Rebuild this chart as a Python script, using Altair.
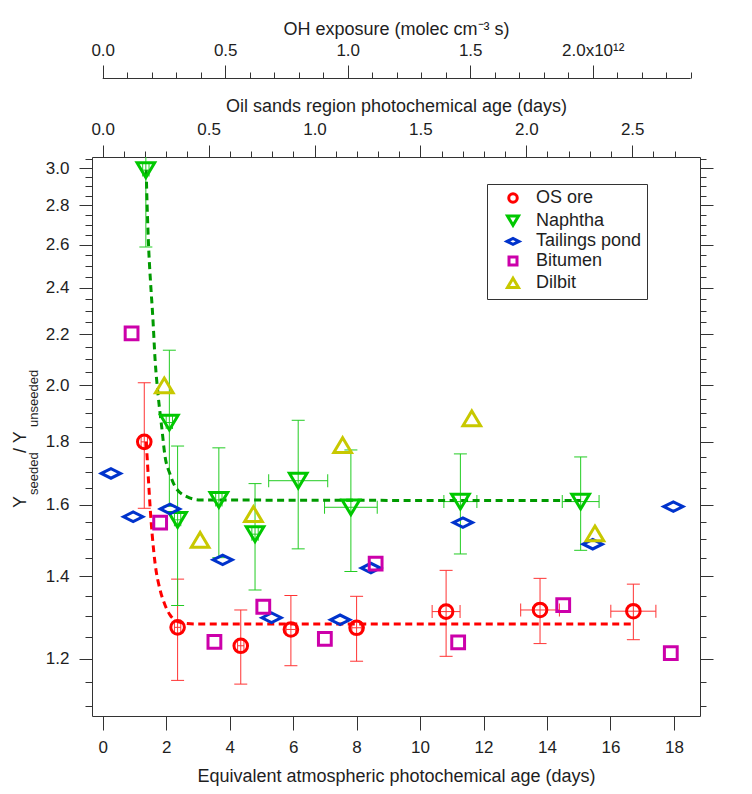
import altair as alt
import pandas as pd

# ---------------- values ----------------
series_names = ["OS ore", "Naphtha", "Tailings pond", "Bitumen", "Dilbit"]
series_colors = ["#ff0000", "#00c800", "#0033cc", "#cc00aa", "#c8c800"]
series_shapes = [
    "M0.85,0A0.85,0.85,0,1,1,-0.85,0A0.85,0.85,0,1,1,0.85,0Z",
    "M-1.1,-0.92L1.1,-0.92L0,0.92Z",
    "M-1.2,0L0,-0.6L1.2,0L0,0.6Z",
    "M-0.8,-0.8L0.8,-0.8L0.8,0.8L-0.8,0.8Z",
    "M0,-0.92L1.1,0.92L-1.1,0.92Z",
]

os_x = [1.31, 2.36, 4.35, 5.93, 8.00, 10.82, 13.78, 16.72]
os_y = [1.80, 1.273, 1.230, 1.268, 1.272, 1.311, 1.315, 1.312]
os_yerr = [0.21, 0.12, 0.085, 0.083, 0.077, 0.105, 0.080, 0.068]
os_xerr = [0.10, 0.10, 0.10, 0.15, 0.15, 0.44, 0.61, 0.71]

na_x = [1.36, 2.10, 2.36, 3.66, 4.80, 6.16, 7.82, 11.27, 15.06]
na_y = [2.99, 1.866, 1.556, 1.615, 1.515, 1.674, 1.593, 1.610, 1.610]
na_yerr = [0.40, 0.27, 0.23, 0.165, 0.15, 0.20, 0.18, 0.15, 0.14]
na_xerr = [0.10, 0.10, 0.10, 0.10, 0.10, 0.93, 0.83, 0.52, 0.58]

tp_x = [0.26, 0.96, 2.12, 3.78, 5.32, 7.48, 8.45, 11.35, 15.44, 17.98]
tp_y = [1.697, 1.565, 1.588, 1.444, 1.296, 1.291, 1.422, 1.548, 1.487, 1.595]

bi_x = [0.91, 1.81, 3.52, 5.06, 7.00, 8.60, 11.20, 14.51, 17.90]
bi_y = [2.204, 1.548, 1.239, 1.323, 1.246, 1.434, 1.238, 1.327, 1.213]

di_x = [1.94, 3.07, 4.75, 7.56, 11.63, 15.51]
di_y = [2.00, 1.499, 1.573, 1.789, 1.881, 1.517]

os_fit_x = [1.37, 1.40, 1.44, 1.50, 1.56, 1.65, 1.81, 1.96, 2.12, 2.28, 2.50, 3.00, 16.72]
os_fit_y = [1.80, 1.75, 1.68, 1.585, 1.513, 1.435, 1.365, 1.328, 1.303, 1.290, 1.284, 1.281, 1.281]
na_fit_x = [1.37, 1.40, 1.45, 1.51, 1.58, 1.65, 1.75, 1.86, 1.96, 2.12, 2.28, 2.65, 3.07, 15.06]
na_fit_y = [2.99, 2.80, 2.58, 2.42, 2.27, 2.10, 1.96, 1.85, 1.755, 1.695, 1.656, 1.625, 1.615, 1.613]

bottom_ticks = [0, 2, 4, 6, 8, 10, 12, 14, 16, 18]
y_ticks = [round(1.10 + 0.05 * i, 2) for i in range(40)]
os_ticks = [round(0.1 * i, 1) for i in range(28)]
oh_ticks = [round(0.1 * i, 1) for i in range(25)]
oh_line = [0.0, 2.4]

# ---------------- layout / style ----------------
FONT = "Liberation Sans"
AX = "#333333"
TX = "#1e1e1e"
W, H = 608, 559
X_DOM = [-0.337, 18.82]
Y_DOM = [1.0788, 3.064]
OS_DOM = [-0.0505, 2.82]
OH_DOM = [-0.0437, 2.438]

x_scale = alt.Scale(domain=X_DOM, nice=False, zero=False)
y_scale = alt.Scale(type="log", domain=Y_DOM, nice=False)

def cond_size(test, major, minor):
    return {"condition": {"test": test, "value": major}, "value": minor}

Y_MAJOR = "abs(datum.value*5 - round(datum.value*5)) < 0.01"
HALF_MAJOR = "abs(datum.value*2 - round(datum.value*2)) < 0.01"

common = dict(grid=False, domainColor=AX, tickColor=AX, labelColor=TX, titleColor=TX,
              labelFont=FONT, titleFont=FONT, labelFontSize=17, titleFontSize=18,
              titleFontWeight="normal", labelFlush=False, labelOverlap=False,
              domainWidth=1, tickWidth=1)

bottom_axis = alt.Axis(orient="bottom", values=bottom_ticks, format="d", tickSize=14,
                       labelPadding=9, title="Equivalent atmospheric photochemical age (days)",
                       titlePadding=12, **common)
left_axis = alt.Axis(orient="left", values=y_ticks,
                     labelExpr=f"({Y_MAJOR}) ? format(datum.value, '.1f') : ''",
                     tickSize=cond_size(Y_MAJOR, 13, 7), labelPadding=10, title=None, **common)
right_axis = alt.Axis(orient="right", values=y_ticks, labels=False,
                      tickSize=cond_size(Y_MAJOR, 13, 6), title=None, **common)
os_axis = alt.Axis(orient="top", values=os_ticks,
                   labelExpr=f"({HALF_MAJOR}) ? format(datum.value, '.1f') : ''",
                   tickSize=cond_size(HALF_MAJOR, 12, 6), labelPadding=7,
                   title="Oil sands region photochemical age (days)", titlePadding=5, **common)
oh_axis = alt.Axis(orient="top", values=oh_ticks, offset=79, domain=False,
                   labelExpr=("abs(datum.value - 2) < 0.01 ? '2.0x10\u00b9\u00b2' : "
                              f"(({HALF_MAJOR}) ? format(datum.value, '.1f') : '')"),
                   tickSize=cond_size(HALF_MAJOR, 13, 6), labelPadding=6,
                   title="OH exposure (molec cm\u207b\u00b3 s)", titlePadding=3, **common)

def X(field):
    return alt.X(field, type="quantitative", scale=x_scale, axis=bottom_axis)

def Y(field):
    return alt.Y(field, type="quantitative", scale=y_scale, axis=left_axis)

# ---------------- error bars ----------------
def error_layers(xs, ys, yerr, xerr, color):
    df = pd.DataFrame({
        "x": xs, "y": ys,
        "ylo": [a - e for a, e in zip(ys, yerr)], "yhi": [a + e for a, e in zip(ys, yerr)],
        "xlo": [a - e for a, e in zip(xs, xerr)], "xhi": [a + e for a, e in zip(xs, xerr)],
    })
    base = alt.Chart(df)
    rule = dict(color=color, strokeWidth=1, clip=True, opacity=1)
    hcap = dict(color=color, orient="horizontal", size=13, thickness=1, clip=True, opacity=1)
    vcap = dict(color=color, orient="vertical", size=13, thickness=1, clip=True, opacity=1)
    return [
        base.mark_rule(**rule).encode(x=X("x"), y=Y("ylo"), y2="yhi"),
        base.mark_tick(**hcap).encode(x=X("x"), y=Y("yhi")),
        base.mark_tick(**hcap).encode(x=X("x"), y=Y("ylo")),
        base.mark_rule(**rule).encode(x=X("xlo"), x2="xhi", y=Y("y")),
        base.mark_tick(**vcap).encode(x=X("xlo"), y=Y("y")),
        base.mark_tick(**vcap).encode(x=X("xhi"), y=Y("y")),
    ]

err = error_layers(os_x, os_y, os_yerr, os_xerr, "#ff3333") + \
      error_layers(na_x, na_y, na_yerr, na_xerr, "#22cc22")

# ---------------- fit curves ----------------
fit_os = alt.Chart(pd.DataFrame({"x": os_fit_x, "y": os_fit_y})).mark_line(
    color="#ff0000", strokeWidth=3, strokeDash=[7, 4.5], interpolate="monotone", clip=True
).encode(x=X("x"), y=Y("y"))
fit_na = alt.Chart(pd.DataFrame({"x": na_fit_x, "y": na_fit_y})).mark_line(
    color="#009a00", strokeWidth=3, strokeDash=[7, 4.5], interpolate="monotone", clip=True
).encode(x=X("x"), y=Y("y"))

# ---------------- markers ----------------
rows = []
for name, xs, ys in zip(series_names, [os_x, na_x, tp_x, bi_x, di_x], [os_y, na_y, tp_y, bi_y, di_y]):
    for a, b in zip(xs, ys):
        rows.append({"series": name, "x": a, "y": b})
pts_df = pd.DataFrame(rows)

legend = alt.Legend(title=None, orient="none", legendX=395, legendY=27,
                    strokeColor=AX, fillColor="white", padding=5,
                    labelFont=FONT, labelFontSize=18, labelColor=TX,
                    symbolSize=100, symbolStrokeWidth=3, rowPadding=0.7,
                    symbolOffset=12, labelOffset=14)

points = alt.Chart(pts_df).mark_point(filled=False, strokeWidth=3, size=256, opacity=1).encode(
    x=X("x"), y=Y("y"),
    color=alt.Color("series:N", scale=alt.Scale(domain=series_names, range=series_colors), legend=legend),
    shape=alt.Shape("series:N", scale=alt.Scale(domain=series_names, range=series_shapes), legend=legend),
)

# ---------------- y-axis title with subscripts ----------------
def ytxt(text, x, y, size):
    return alt.Chart(pd.DataFrame({"t": [text]})).mark_text(
        angle=270, align="left", baseline="middle", font=FONT, fontSize=size, color=TX
    ).encode(text="t:N", x=alt.value(x), y=alt.value(y))

ytitle = [ytxt("Y", -70.7, 351, 18), ytxt("seeded", -58.5, 338, 13),
          ytxt(" / Y", -70.7, 296, 18), ytxt("unseeded", -58.5, 270, 13)]

main = alt.layer(*err, fit_os, fit_na, points, *ytitle)

# ---------------- extra axes ----------------
os_layer = alt.Chart(pd.DataFrame({"v": [0.0]})).mark_point(opacity=0).encode(
    x=alt.X("v:Q", scale=alt.Scale(domain=OS_DOM, nice=False, zero=False), axis=os_axis)
)
oh_layer = alt.Chart(pd.DataFrame({"a": [oh_line[0]], "b": [oh_line[1]]})).mark_rule(
    color=AX, strokeWidth=1
).encode(
    x=alt.X("a:Q", scale=alt.Scale(domain=OH_DOM, nice=False, zero=False), axis=oh_axis),
    x2="b:Q", y=alt.value(-78.5)
)
right_layer = alt.Chart(pd.DataFrame({"v": [1.5]})).mark_point(opacity=0).encode(
    y=alt.Y("v:Q", scale=alt.Scale(type="log", domain=Y_DOM, nice=False), axis=right_axis)
)

chart = alt.layer(main, os_layer, oh_layer, right_layer).resolve_scale(
    x="independent", y="independent"
).properties(
    width=W, height=H,
    padding={"left": 84, "top": 149, "right": 44, "bottom": 70},
    autosize=alt.AutoSizeParams(type="none"),
    background="white",
).configure_view(stroke="transparent")

chart.save("out.html", embed_options={"renderer": "svg", "actions": False})
